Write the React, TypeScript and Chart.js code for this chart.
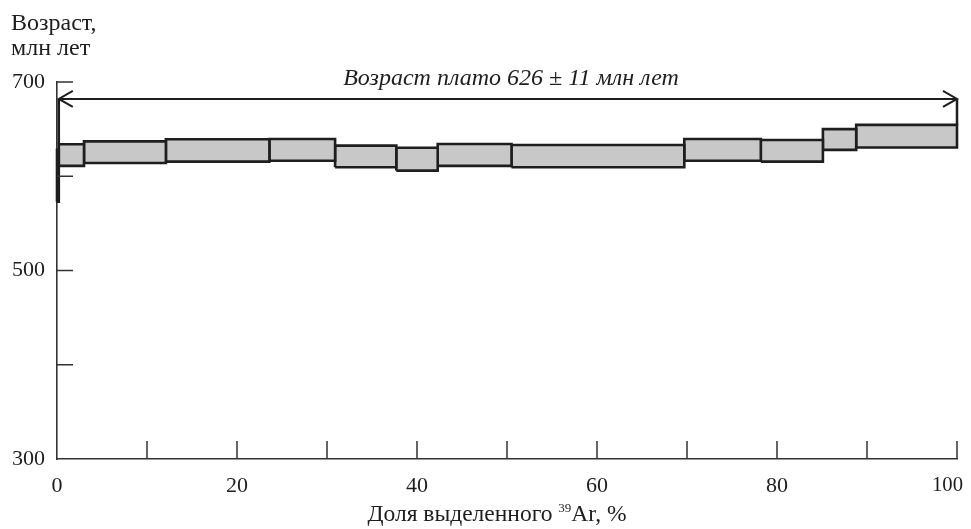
import React, { useEffect, useRef } from "react";
import { Chart, registerables } from "chart.js";

Chart.register(...registerables);

// Step boundaries (cumulative % of 39Ar released)
const stepBounds = [0, 0.2, 3.0, 12.1, 23.6, 30.9, 37.7, 42.3, 50.5, 69.7, 78.2, 85.1, 88.8, 100];
// Lower / upper age of each step (Ma)
const ageLow = [573, 611, 614, 615.5, 616.5, 609.5, 606, 611, 609.5, 616.5, 615.5, 628, 630.5];
const ageHigh = [628, 634, 637, 639.2, 639.5, 632.5, 630.3, 634.2, 633.2, 639.5, 638.5, 650, 654.5];

const xTickValues = [0, 10, 20, 30, 40, 50, 60, 70, 80, 90, 100];
const xLabelValues = [0, 20, 40, 60, 80, 100];
const yTickValues = [300, 400, 500, 600, 700];
const yLabelValues = [300, 500, 700];

const plateauStart = 0.2;
const plateauEnd = 100;
const plateauArrowAge = 682;
const plateauText = "Возраст плато 626 ± 11 млн лет";
const yTitleLines = ["Возраст,", "млн лет"];
const xTitleParts = ["Доля выделенного ", "39", "Ar, %"];

const FONT = "'Liberation Serif', 'DejaVu Serif', serif";
const INK = "#1e1e1e";
const X_MAX = 100;

const overlay = {
  id: "overlay",
  afterDraw(chart: any) {
    const { ctx, chartArea, scales } = chart;
    const xs = scales.x;
    const ys = scales.y;
    ctx.save();
    // inward ticks
    ctx.strokeStyle = "#333";
    ctx.lineWidth = 1.5;
    ctx.beginPath();
    xTickValues.forEach((v) => {
      if (v === 0) return;
      const px = xs.getPixelForValue(v);
      ctx.moveTo(px, chartArea.bottom);
      ctx.lineTo(px, chartArea.bottom - 18);
    });
    yTickValues.forEach((v) => {
      if (v === 300) return;
      const py = ys.getPixelForValue(v);
      ctx.moveTo(chartArea.left, py);
      ctx.lineTo(chartArea.left + 16, py);
    });
    ctx.stroke();

    // plateau arrow
    const ay = ys.getPixelForValue(plateauArrowAge);
    const x0 = xs.getPixelForValue(plateauStart);
    const x1 = xs.getPixelForValue(plateauEnd);
    ctx.strokeStyle = INK;
    ctx.lineWidth = 2;
    ctx.beginPath();
    ctx.moveTo(x0, ay);
    ctx.lineTo(x1, ay);
    // heads
    ctx.moveTo(x0 + 14, ay - 8);
    ctx.lineTo(x0, ay);
    ctx.lineTo(x0 + 14, ay + 8);
    ctx.moveTo(x1 - 14, ay - 8);
    ctx.lineTo(x1, ay);
    ctx.lineTo(x1 - 14, ay + 8);
    ctx.stroke();
    // end bars
    ctx.lineWidth = 2.5;
    ctx.beginPath();
    ctx.moveTo(x0, ay);
    ctx.lineTo(x0, ys.getPixelForValue(ageHigh[1]));
    ctx.moveTo(x1, ay);
    ctx.lineTo(x1, ys.getPixelForValue(ageHigh[ageHigh.length - 1]));
    ctx.stroke();

    ctx.fillStyle = INK;
    // last x tick label, right-aligned to stay inside the canvas
    ctx.font = `22px ${FONT}`;
    ctx.textAlign = "right";
    ctx.textBaseline = "alphabetic";
    ctx.fillText(String(X_MAX), xs.getPixelForValue(X_MAX) + 6, chartArea.bottom + 32, 31);

    // plateau text
    ctx.font = `italic 24px ${FONT}`;
    ctx.textAlign = "center";
    ctx.fillText(plateauText, 511, ay - 14);

    // y title
    ctx.font = `24px ${FONT}`;
    ctx.textAlign = "left";
    ctx.fillText(yTitleLines[0], 11, 30);
    ctx.fillText(yTitleLines[1], 11, 55);

    // x title with superscript
    const big = `23.5px ${FONT}`;
    const small = `13px ${FONT}`;
    ctx.font = big;
    const w0 = ctx.measureText(xTitleParts[0]).width;
    const w2 = ctx.measureText(xTitleParts[2]).width;
    ctx.font = small;
    const w1 = ctx.measureText(xTitleParts[1]).width;
    const total = w0 + w1 + w2;
    let tx = 497 - total / 2;
    const by = 521;
    ctx.font = big;
    ctx.fillText(xTitleParts[0], tx, by);
    tx += w0;
    ctx.font = small;
    ctx.fillText(xTitleParts[1], tx, by - 9);
    tx += w1;
    ctx.font = big;
    ctx.fillText(xTitleParts[2], tx, by);
    ctx.restore();
  },
};

export default function App() {
  const ref = useRef<HTMLCanvasElement | null>(null);
  useEffect(() => {
    document.body.style.margin = "0";
    const datasets = stepBounds.slice(0, -1).map((x0, i) => {
      const x1 = stepBounds[i + 1];
      return {
        data: [
          { x: x0, y: ageLow[i] },
          { x: x1, y: ageLow[i] },
          { x: x1, y: ageHigh[i] },
          { x: x0, y: ageHigh[i] },
          { x: x0, y: ageLow[i] },
        ],
        showLine: true,
        fill: "shape",
        backgroundColor: "#c8c8c8",
        borderColor: "#1e1e1e",
        borderWidth: 2.6,
        borderJoinStyle: "miter",
        pointRadius: 0,
        tension: 0,
        clip: false,
      };
    });
    const chart = new Chart(ref.current as HTMLCanvasElement, {
      type: "scatter",
      data: { datasets: datasets as any },
      options: {
        animation: false,
        responsive: true,
        maintainAspectRatio: false,
        layout: { padding: { top: 82, right: 14, left: 0, bottom: 0 } },
        plugins: { legend: { display: false }, tooltip: { enabled: false } },
        scales: {
          x: {
            type: "linear",
            min: 0,
            max: X_MAX,
            afterFit: (s: any) => {
              s.height = 70;
              s.paddingLeft = 0;
              s.paddingRight = 0;
            },
            afterBuildTicks: (s: any) => {
              s.ticks = xTickValues.map((v) => ({ value: v }));
            },
            ticks: {
              autoSkip: false,
              maxRotation: 0,
              padding: 14,
              color: INK,
              font: { family: FONT, size: 22 },
              callback: (v: any) =>
                xLabelValues.includes(v) && v !== X_MAX ? String(v) : "",
            },
            grid: { display: false, drawTicks: false },
            border: { display: true, color: "#333", width: 1.6 },
          },
          y: {
            type: "linear",
            min: 300,
            max: 700,
            afterFit: (s: any) => {
              s.width = 57;
              s.paddingTop = 0;
              s.paddingBottom = 0;
            },
            afterBuildTicks: (s: any) => {
              s.ticks = yTickValues.map((v) => ({ value: v }));
            },
            ticks: {
              autoSkip: false,
              padding: 12,
              color: INK,
              font: { family: FONT, size: 22 },
              callback: (v: any) => (yLabelValues.includes(v) ? String(v) : ""),
            },
            grid: { display: false, drawTicks: false },
            border: { display: true, color: "#333", width: 1.6 },
          },
        },
      },
      plugins: [overlay],
    });
    return () => chart.destroy();
  }, []);
  return (
    <div style={{ width: 971, height: 529, position: "relative", background: "#fff" }}>
      <canvas ref={ref} />
    </div>
  );
}
